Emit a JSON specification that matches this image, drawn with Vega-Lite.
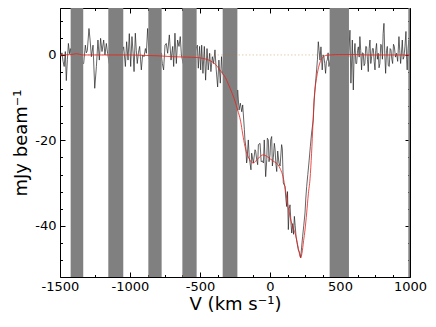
{
  "$schema": "https://vega.github.io/schema/vega-lite/v6.json",
  "width": 350,
  "height": 269,
  "autosize": {"type": "none"},
  "padding": {"left": 60, "top": 8, "right": 26, "bottom": 50},
  "background": "white",
  "config": {
    "view": {"stroke": null},
    "axis": {
      "labelFont": "DejaVu Sans", "titleFont": "DejaVu Sans",
      "labelColor": "black", "titleColor": "black",
      "tickColor": "black", "domainColor": "black",
      "grid": false, "titleFontWeight": "normal",
      "labelFontSize": 13, "titleFontSize": 18,
      "domainWidth": 1, "tickWidth": 1
    }
  },
  "datasets": {
    "spec": [
      {"v":-1500,"f":1.2},{"v":-1493,"f":-0.3},{"v":-1486,"f":0.5},{"v":-1478,"f":-1.5},{"v":-1470,"f":-2.7},{"v":-1462,"f":0.8},{"v":-1455,"f":-6.0},{"v":-1447,"f":-1.0},{"v":-1440,"f":2.7},{"v":-1432,"f":0.3},{"v":-1426,"f":1.5},
      {"v":-1414,"f":-1.5},{"v":-1402,"f":2.2},{"v":-1390,"f":-2.4},{"v":-1378,"f":1.0},{"v":-1366,"f":-0.8},{"v":-1354,"f":2.0},{"v":-1342,"f":-1.8},
      {"v":-1331,"f":-2.0},{"v":-1319,"f":2.3},{"v":-1312,"f":0.5},{"v":-1305,"f":1.0},{"v":-1293,"f":6.2},{"v":-1285,"f":3.5},{"v":-1276,"f":-0.4},{"v":-1264,"f":2.3},{"v":-1252,"f":-7.8},{"v":-1240,"f":-2.7},{"v":-1229,"f":3.5},{"v":-1219,"f":-1.2},{"v":-1210,"f":3.9},{"v":-1200,"f":0.8},{"v":-1188,"f":3.5},{"v":-1179,"f":0.0},{"v":-1169,"f":2.7},{"v":-1160,"f":0.4},
      {"v":-1148,"f":-2.0},{"v":-1136,"f":1.5},{"v":-1124,"f":-1.0},{"v":-1112,"f":2.0},{"v":-1100,"f":-1.5},{"v":-1088,"f":0.5},{"v":-1076,"f":3.0},{"v":-1064,"f":-2.0},{"v":-1052,"f":1.0},
      {"v":-1045,"f":1.9},{"v":-1033,"f":-2.7},{"v":-1024,"f":3.1},{"v":-1014,"f":-1.2},{"v":-1005,"f":5.0},{"v":-995,"f":-2.7},{"v":-986,"f":4.3},{"v":-977,"f":0.0},{"v":-971,"f":-3.9},{"v":-962,"f":5.1},{"v":-955,"f":1.0},{"v":-948,"f":-2.0},{"v":-940,"f":0.5},{"v":-931,"f":2.0},{"v":-925,"f":-1.0},{"v":-919,"f":-3.5},{"v":-910,"f":0.0},{"v":-900,"f":-0.4},{"v":-890,"f":1.5},{"v":-883,"f":0.4},{"v":-874,"f":6.2},
      {"v":-862,"f":-1.0},{"v":-850,"f":2.0},{"v":-838,"f":-2.5},{"v":-826,"f":1.0},{"v":-814,"f":-1.0},{"v":-802,"f":2.5},{"v":-790,"f":-1.5},{"v":-778,"f":0.5},
      {"v":-769,"f":-2.0},{"v":-760,"f":-3.5},{"v":-750,"f":2.3},{"v":-741,"f":2.7},{"v":-731,"f":0.4},{"v":-719,"f":4.7},{"v":-707,"f":-1.2},{"v":-695,"f":2.0},{"v":-688,"f":-2.7},{"v":-679,"f":5.1},{"v":-669,"f":-2.0},{"v":-660,"f":3.5},{"v":-650,"f":2.0},{"v":-641,"f":4.3},{"v":-633,"f":0.0},
      {"v":-620,"f":-2.0},{"v":-608,"f":1.5},{"v":-596,"f":-1.0},{"v":-584,"f":2.0},{"v":-572,"f":-2.5},{"v":-560,"f":1.0},{"v":-548,"f":-1.0},{"v":-536,"f":0.5},{"v":-528,"f":1.5},
      {"v":-519,"f":2.3},{"v":-512,"f":-3.1},{"v":-503,"f":2.0},{"v":-495,"f":-3.5},{"v":-488,"f":2.3},{"v":-479,"f":-4.3},{"v":-469,"f":2.0},{"v":-460,"f":-5.9},{"v":-450,"f":1.5},{"v":-441,"f":-3.5},{"v":-431,"f":0.4},{"v":-422,"f":-3.9},{"v":-412,"f":-0.4},{"v":-403,"f":-2.0},{"v":-393,"f":1.2},{"v":-384,"f":-3.5},{"v":-374,"f":-7.5},{"v":-365,"f":-1.2},{"v":-355,"f":-6.6},{"v":-346,"f":-0.4},{"v":-340,"f":-4.0},
      {"v":-330,"f":-5.0},{"v":-318,"f":-3.0},{"v":-306,"f":-8.0},{"v":-294,"f":-5.0},{"v":-282,"f":-10.0},{"v":-270,"f":-7.0},{"v":-258,"f":-12.0},{"v":-246,"f":-10.0},{"v":-236,"f":-13.0},
      {"v":-231,"f":-8.2},{"v":-221,"f":-12.9},{"v":-212,"f":-11.3},{"v":-202,"f":-13.3},{"v":-195,"f":-11.7},{"v":-183,"f":-17.5},{"v":-179,"f":-19.9},{"v":-173,"f":-21.4},{"v":-167,"f":-25.3},{"v":-164,"f":-24.6},{"v":-155,"f":-19.9},{"v":-148,"f":-24.0},{"v":-136,"f":-26.9},{"v":-131,"f":-23.0},{"v":-119,"f":-25.3},{"v":-107,"f":-22.2},{"v":-102,"f":-22.6},{"v":-95,"f":-24.5},{"v":-88,"f":-25.7},{"v":-83,"f":-21.0},{"v":-71,"f":-20.7},{"v":-63,"f":-25.0},{"v":-55,"f":-24.8},{"v":-47,"f":-25.3},{"v":-41,"f":-19.9},{"v":-31,"f":-28.5},{"v":-23,"f":-24.5},{"v":-19,"f":-19.5},{"v":-12,"f":-19.9},{"v":-7,"f":-25.0},{"v":0,"f":-23.5},{"v":5,"f":-19.9},{"v":12,"f":-19.1},{"v":17,"f":-26.0},{"v":24,"f":-24.0},{"v":31,"f":-20.7},{"v":36,"f":-22.0},{"v":42,"f":-25.5},{"v":48,"f":-27.3},{"v":55,"f":-22.5},{"v":64,"f":-25.3},{"v":72,"f":-26.0},{"v":83,"f":-21.0},{"v":88,"f":-22.0},{"v":95,"f":-30.0},{"v":107,"f":-30.8},{"v":113,"f":-33.5},{"v":119,"f":-35.5},{"v":125,"f":-32.0},{"v":131,"f":-40.9},{"v":137,"f":-36.0},{"v":143,"f":-35.1},{"v":149,"f":-39.0},{"v":155,"f":-41.7},{"v":162,"f":-39.5},{"v":168,"f":-42.0},{"v":174,"f":-37.8},{"v":180,"f":-40.0},{"v":186,"f":-42.5},{"v":193,"f":-44.0},{"v":202,"f":-45.6},{"v":210,"f":-46.2},{"v":219,"f":-47.5},{"v":226,"f":-45.0},{"v":233,"f":-42.5},{"v":241,"f":-40.0},{"v":250,"f":-37.0},{"v":256,"f":-33.5},{"v":262,"f":-30.8},{"v":270,"f":-28.0},{"v":278,"f":-25.3},{"v":288,"f":-21.5},{"v":297,"f":-18.3},{"v":309,"f":-15.2},{"v":315,"f":-11.0},{"v":321,"f":-8.2},{"v":333,"f":-3.5},{"v":339,"f":-1.0},{"v":345,"f":3.1},{"v":351,"f":1.0},{"v":357,"f":-1.2},{"v":364,"f":1.9},{"v":368,"f":-0.5},{"v":373,"f":-3.5},{"v":379,"f":0.0},{"v":385,"f":-0.4},{"v":391,"f":-2.0},{"v":397,"f":-4.3},{"v":403,"f":-1.5},{"v":409,"f":-1.2},{"v":415,"f":0.5},{"v":421,"f":-2.7},
      {"v":432,"f":-1.0},{"v":444,"f":1.5},{"v":456,"f":-0.5},{"v":468,"f":2.0},{"v":480,"f":-1.5},{"v":492,"f":1.0},{"v":504,"f":-2.0},{"v":516,"f":0.5},{"v":528,"f":2.0},{"v":540,"f":-1.5},{"v":552,"f":1.0},{"v":562,"f":-0.5},
      {"v":571,"f":5.8},{"v":578,"f":-6.6},{"v":588,"f":3.5},{"v":595,"f":-8.2},{"v":601,"f":0.0},{"v":607,"f":2.7},{"v":613,"f":-2.0},{"v":619,"f":-2.0},{"v":625,"f":1.0},{"v":631,"f":1.9},{"v":637,"f":-0.5},{"v":642,"f":4.3},{"v":648,"f":1.0},{"v":654,"f":-3.5},{"v":660,"f":0.5},{"v":666,"f":0.4},{"v":672,"f":-2.5},{"v":678,"f":-2.0},{"v":684,"f":2.0},{"v":690,"f":1.9},{"v":696,"f":-1.0},{"v":702,"f":-3.9},{"v":708,"f":1.5},{"v":714,"f":3.5},{"v":720,"f":-2.0},{"v":726,"f":-0.4},{"v":732,"f":1.5},{"v":738,"f":1.5},{"v":744,"f":-1.5},{"v":750,"f":-3.5},{"v":755,"f":1.0},{"v":761,"f":2.7},{"v":767,"f":-1.0},{"v":773,"f":0.4},{"v":779,"f":-3.0},{"v":785,"f":-2.0},{"v":791,"f":2.5},{"v":797,"f":2.3},{"v":803,"f":-1.0},{"v":808,"f":5.0},{"v":814,"f":7.4},{"v":820,"f":0.0},{"v":826,"f":-4.3},{"v":832,"f":1.0},{"v":838,"f":2.0},{"v":845,"f":-2.5},{"v":852,"f":-2.7},{"v":858,"f":1.5},{"v":864,"f":1.2},{"v":870,"f":-1.0},{"v":876,"f":-2.0},{"v":882,"f":2.5},{"v":888,"f":2.0},{"v":896,"f":-0.5},{"v":904,"f":0.4},{"v":912,"f":-1.5},{"v":921,"f":4.3},{"v":927,"f":1.0},{"v":933,"f":-2.0},{"v":939,"f":0.5},{"v":945,"f":3.5},{"v":951,"f":-1.0},{"v":957,"f":-0.4},{"v":964,"f":2.0},{"v":971,"f":5.5},{"v":976,"f":-1.0},{"v":980,"f":-3.5},{"v":986,"f":1.5},{"v":992,"f":3.5},{"v":997,"f":-1.0},{"v":1000,"f":0.4}
    ],
    "model": [
      {"v":-1500,"f":0},{"v":-1420,"f":0.1},{"v":-1380,"f":0.3},{"v":-1340,"f":0},{"v":-1200,"f":0},{"v":-1000,"f":0},{"v":-900,"f":-0.1},{"v":-800,"f":-0.2},{"v":-700,"f":-0.4},{"v":-600,"f":-0.5},{"v":-520,"f":-0.6},{"v":-480,"f":-0.8},{"v":-430,"f":-1.3},{"v":-390,"f":-2.2},{"v":-340,"f":-4.3},{"v":-320,"f":-5.2},{"v":-298,"f":-6.8},{"v":-270,"f":-9.0},{"v":-250,"f":-10.8},{"v":-231,"f":-12.9},{"v":-210,"f":-15.5},{"v":-195,"f":-18.5},{"v":-179,"f":-21.4},{"v":-160,"f":-23.5},{"v":-140,"f":-24.8},{"v":-121,"f":-25.3},{"v":-100,"f":-24.8},{"v":-75,"f":-23.9},{"v":-50,"f":-23.4},{"v":-25,"f":-23.7},{"v":0,"f":-24.3},{"v":30,"f":-25.0},{"v":57,"f":-25.7},{"v":75,"f":-26.8},{"v":93,"f":-28.5},{"v":110,"f":-31.5},{"v":129,"f":-35.5},{"v":150,"f":-38.8},{"v":165,"f":-40.5},{"v":179,"f":-41.7},{"v":195,"f":-44.0},{"v":210,"f":-46.5},{"v":219,"f":-47.5},{"v":228,"f":-46.5},{"v":240,"f":-43.5},{"v":250,"f":-41.0},{"v":262,"f":-37.0},{"v":274,"f":-32.5},{"v":286,"f":-29.0},{"v":297,"f":-23.0},{"v":307,"f":-16.0},{"v":314,"f":-11.0},{"v":321,"f":-8.2},{"v":332,"f":-5.5},{"v":343,"f":-3.5},{"v":360,"f":-1.5},{"v":379,"f":-0.5},{"v":400,"f":-0.1},{"v":430,"f":0},{"v":500,"f":0.1},{"v":600,"f":0.1},{"v":700,"f":0},{"v":800,"f":0},{"v":1000,"f":0}
    ],
    "bands": [
      {"a":-1424,"b":-1334},{"a":-1155,"b":-1048},{"a":-869,"b":-774},{"a":-626,"b":-524},{"a":-338,"b":-233},{"a":426,"b":564},{"a":988,"b":1000}
    ],
    "zero": [{"v":-1500,"f":0},{"v":1000,"f":0}]
  },
  "layer": [
    {
      "data": {"name": "spec"},
      "mark": {"type": "line", "stroke": "#222222", "strokeWidth": 0.7, "clip": true},
      "encoding": {
        "x": {"field": "v", "type": "quantitative", "scale": {"domain": [-1500, 1000], "nice": false, "zero": false},
              "axis": {"orient": "top", "values": [-1500,-1000,-500,0,500,1000], "labels": false, "tickSize": -5, "title": null, "domain": true}},
        "y": {"field": "f", "type": "quantitative", "scale": {"domain": [-52, 11], "nice": false, "zero": false},
              "axis": {"orient": "right", "values": [-40,-20,0], "labels": false, "tickSize": -5, "title": null, "domain": true}}
      }
    },
    {
      "data": {"name": "bands"},
      "mark": {"type": "rect", "color": "#808080", "opacity": 1},
      "encoding": {
        "x": {"field": "a", "type": "quantitative", "scale": {"domain": [-1500, 1000], "nice": false, "zero": false},
              "axis": {"orient": "bottom", "values": [-1500,-1000,-500,0,500,1000], "tickSize": -5, "labelPadding": 8, "labelFlush": false, "labelOverlap": false, "labelExpr": "'' + datum.value", "title": "V (km s⁻¹)", "titlePadding": 2}},
        "x2": {"field": "b"},
        "y": {"datum": -52, "type": "quantitative", "scale": {"domain": [-52, 11], "nice": false, "zero": false},
              "axis": {"orient": "left", "values": [-40,-20,0], "tickSize": -5, "labelPadding": 9, "labelOverlap": false, "labelExpr": "'' + datum.value", "title": "mJy beam⁻¹", "titlePadding": 4}},
        "y2": {"datum": 11}
      }
    },
    {
      "data": {"name": "zero"},
      "mark": {"type": "line", "stroke": "#b07020", "strokeOpacity": 0.45, "strokeWidth": 0.8, "strokeDash": [1.5, 2]},
      "encoding": {
        "x": {"field": "v", "type": "quantitative", "scale": {"domain": [-1500, 1000], "nice": false, "zero": false},
              "axis": {"orient": "bottom", "values": [-1375,-1250,-1125,-875,-750,-625,-375,-250,-125,125,250,375,625,750,875], "labels": false, "tickSize": -2.5, "domain": false, "title": null}},
        "y": {"field": "f", "type": "quantitative", "scale": {"domain": [-52, 11], "nice": false, "zero": false},
              "axis": {"orient": "left", "values": [8,4,-4,-8,-12,-16,-24,-28,-32,-36,-44,-48], "labels": false, "tickSize": -2.5, "domain": false, "title": null}}
      }
    },
    {
      "data": {"name": "model"},
      "mark": {"type": "line", "stroke": "#e8201c", "strokeWidth": 0.8, "interpolate": "monotone"},
      "encoding": {
        "x": {"field": "v", "type": "quantitative", "scale": {"domain": [-1500, 1000], "nice": false, "zero": false},
              "axis": {"orient": "top", "values": [-1375,-1250,-1125,-875,-750,-625,-375,-250,-125,125,250,375,625,750,875], "labels": false, "tickSize": -2.5, "domain": false, "title": null}},
        "y": {"field": "f", "type": "quantitative", "scale": {"domain": [-52, 11], "nice": false, "zero": false},
              "axis": {"orient": "right", "values": [8,4,-4,-8,-12,-16,-24,-28,-32,-36,-44,-48], "labels": false, "tickSize": -2.5, "domain": false, "title": null}}
      }
    }
  ]
}
